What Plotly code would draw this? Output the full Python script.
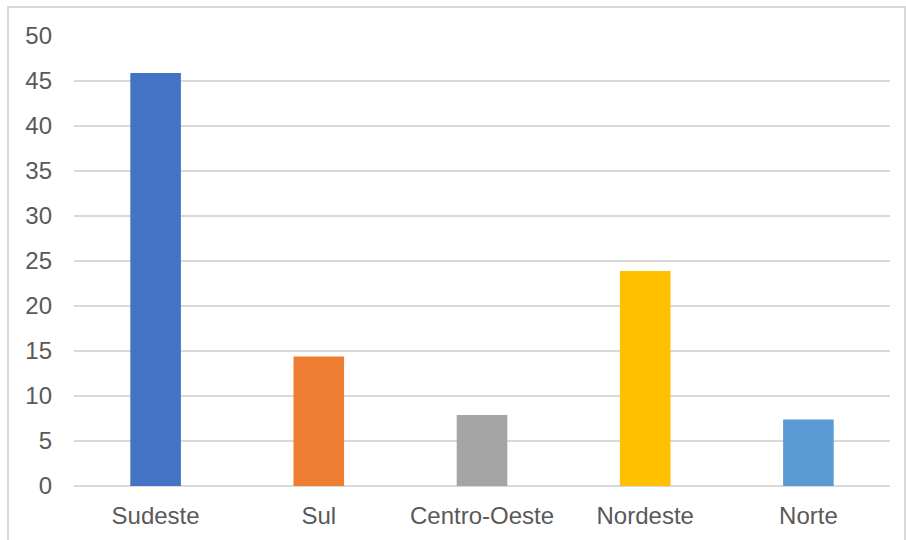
import plotly.graph_objects as go

regions = ["Sudeste", "Sul", "Centro-Oeste", "Nordeste", "Norte"]
values = [45.9, 14.4, 7.9, 23.9, 7.4]
colors = ["#4472C4", "#ED7D31", "#A5A5A5", "#FFC000", "#5B9BD5"]
y_ticks = [0, 5, 10, 15, 20, 25, 30, 35, 40, 45, 50]

W, H = 906, 540
ml, mr, mt, mb = 74, 16, 36, 54
pw, ph = W - ml - mr, H - mt - mb

fig = go.Figure(
    go.Bar(
        x=regions,
        y=values,
        marker=dict(color=colors, line=dict(width=0)),
        width=0.31,
        hoverinfo="x+y",
    )
)

# outer chart frame
fig.add_shape(
    type="rect", xref="paper", yref="paper",
    x0=(8 - ml) / pw, x1=(905 - ml) / pw,
    y0=(H - mb - 545) / ph, y1=(H - mb - 7) / ph,
    line=dict(color="#d9d9d9", width=2), fillcolor="rgba(0,0,0,0)",
    layer="below",
)

fig.update_layout(
    width=W, height=H,
    margin=dict(l=ml, r=mr, t=mt, b=mb),
    paper_bgcolor="white", plot_bgcolor="white",
    font=dict(family="Liberation Sans, Arial, sans-serif", size=24, color="#595959"),
    showlegend=False,
    bargap=0.69,
)
fig.update_xaxes(
    showgrid=False, showline=False, zeroline=False, ticks="",
    ticklabelstandoff=13,
    tickfont=dict(size=24, color="#595959"),
)
fig.update_yaxes(
    range=[0, 50], tickvals=y_ticks,
    showgrid=True, gridcolor="#d9d9d9", gridwidth=1.5,
    zeroline=True, zerolinecolor="#d9d9d9", zerolinewidth=1.5,
    showline=False, ticks="", ticklabelstandoff=21,
    tickfont=dict(size=24, color="#595959"),
)

fig.write_html("out.html")
